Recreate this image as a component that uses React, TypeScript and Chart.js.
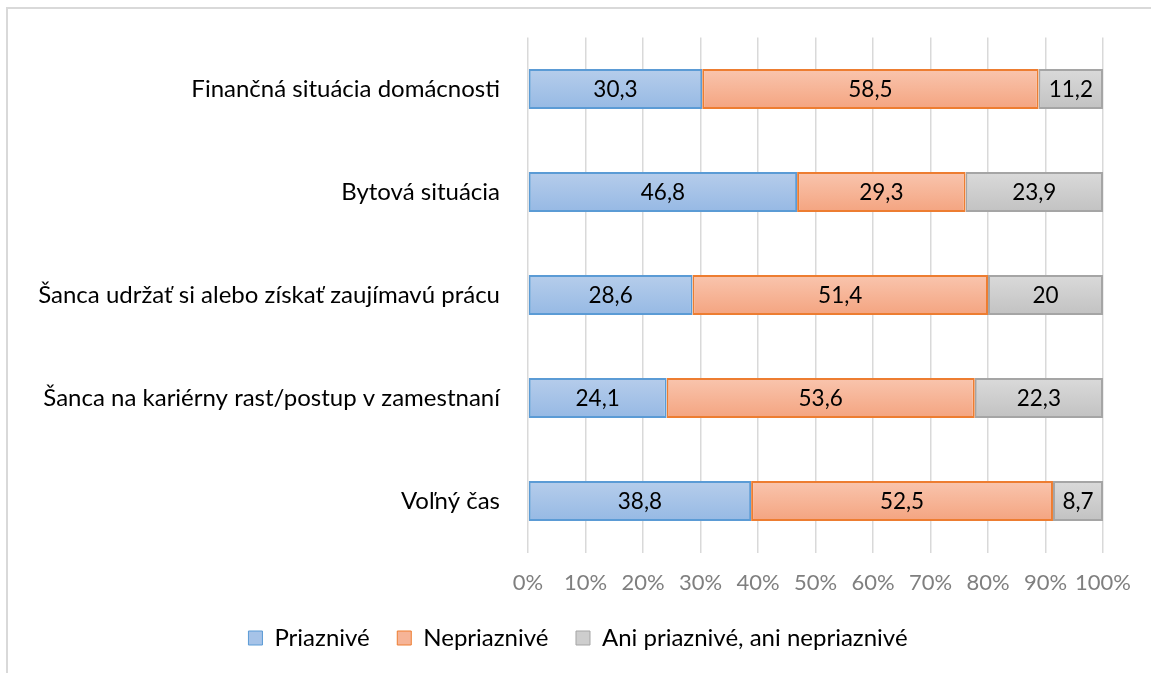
import React, { useEffect, useRef } from "react";
import { Chart, registerables } from "chart.js";

Chart.register(...registerables);

const categories = [
  "Finančná situácia domácnosti",
  "Bytová situácia",
  "Šanca udržať si alebo získať zaujímavú prácu",
  "Šanca na kariérny rast/postup v zamestnaní",
  "Voľný čas",
];
const seriesNames = ["Priaznivé", "Nepriaznivé", "Ani priaznivé, ani nepriaznivé"];
const priaznive = [30.3, 46.8, 28.6, 24.1, 38.8];
const nepriaznive = [58.5, 29.3, 51.4, 53.6, 52.5];
const ani = [11.2, 23.9, 20, 22.3, 8.7];
const xTicks = [0, 10, 20, 30, 40, 50, 60, 70, 80, 90, 100];

const FONT = "Lato, sans-serif";

const palettes = [
  { top: "#b6cdeb", bottom: "#96b9e4", border: "#5b9bd5", legend: "#a6c3e8" },
  { top: "#f9c5ae", bottom: "#f4a480", border: "#ed7d31", legend: "#f6b497" },
  { top: "#dadada", bottom: "#c2c2c2", border: "#a5a5a5", legend: "#cecece" },
];

function gradientFor(idx: number) {
  return (ctx: any) => {
    const chart = ctx.chart;
    const p = palettes[idx];
    const y = chart.scales?.y;
    if (!y || ctx.dataIndex === undefined || ctx.type !== "data") return p.legend;
    const c = y.getPixelForValue(ctx.dataIndex);
    const g = chart.ctx.createLinearGradient(0, c - 20, 0, c + 20);
    g.addColorStop(0, p.top);
    g.addColorStop(1, p.bottom);
    return g;
  };
}

const labelPlugin = {
  id: "segLabels",
  afterDatasetsDraw(chart: any) {
    const ctx = chart.ctx;
    ctx.save();
    ctx.font = `22.5px ${FONT}`;
    ctx.fillStyle = "#000";
    ctx.textAlign = "center";
    ctx.textBaseline = "middle";
    chart.data.datasets.forEach((ds: any, di: number) => {
      const meta = chart.getDatasetMeta(di);
      meta.data.forEach((el: any, i: number) => {
        const v = ds.data[i];
        const cx = (el.x + el.base) / 2;
        ctx.fillText(String(v).replace(".", ","), cx, el.y + 1);
      });
    });
    ctx.restore();
  },
};

export default function App() {
  const ref = useRef<HTMLCanvasElement>(null);
  useEffect(() => {
    if (!ref.current) return;
    const values = [priaznive, nepriaznive, ani];
    const chart = new Chart(ref.current, {
      type: "bar",
      data: {
        labels: categories,
        datasets: values.map((d, i) => ({
          label: seriesNames[i],
          data: d,
          backgroundColor: gradientFor(i),
          borderColor: palettes[i].border,
          borderWidth: 2,
          borderSkipped: false,
          barPercentage: 0.39,
          categoryPercentage: 1,
        })),
      },
      options: {
        indexAxis: "y",
        responsive: false,
        animation: false,
        devicePixelRatio: 1,
        layout: { padding: { left: 5, right: 0, top: 37.5, bottom: 13 } },
        plugins: {
          tooltip: { enabled: false },
          legend: {
            position: "bottom",
            labels: {
              font: { family: FONT, size: 24, lineHeight: 1 },
              color: "#000",
              boxWidth: 14,
              boxHeight: 14,
              padding: 27.5,
              generateLabels: () =>
                seriesNames.map((n, i) => ({
                  text: n,
                  fillStyle: palettes[i].legend,
                  strokeStyle: palettes[i].border,
                  lineWidth: 1,
                  hidden: false,
                  datasetIndex: i,
                })),
            },
          },
        },
        scales: {
          x: {
            stacked: true,
            min: 0,
            max: 100,
            afterBuildTicks: (s: any) => {
              s.ticks = xTicks.map((v) => ({ value: v }));
            },
            afterFit: (s: any) => {
              s.height = 46;
            },
            ticks: {
              callback: (v: any) => v + "%",
              color: "#7f7f7f",
              font: { family: FONT, size: 22 },
              padding: 17,
              maxRotation: 0,
              autoSkip: false,
            },
            grid: { color: "#d9d9d9", lineWidth: 1.5, drawTicks: false },
            border: { display: false },
          },
          y: {
            stacked: true,
            afterFit: (s: any) => {
              s.width = 523;
              s.paddingTop = 0;
              s.paddingBottom = 0;
            },
            ticks: {
              color: "#000",
              font: { family: FONT, size: 24 },
              padding: 28,
            },
            grid: { display: false, drawTicks: false },
            border: { display: false },
          },
          y2: {
            type: "category",
            position: "right",
            labels: categories,
            afterFit: (s: any) => {
              s.width = 48;
              s.paddingTop = 0;
              s.paddingBottom = 0;
            },
            ticks: { display: false },
            grid: { display: false, drawTicks: false },
            border: { display: false },
          },
        },
      } as any,
      plugins: [labelPlugin],
    });
    return () => chart.destroy();
  }, []);

  return (
    <div
      style={{
        position: "absolute",
        left: 0,
        top: 0,
        width: 1151,
        height: 673,
        overflow: "hidden",
        background: "#fff",
      }}
    >
      <div
        style={{
          position: "absolute",
          left: 6,
          top: 7,
          width: 1200,
          height: 720,
          border: "2px solid #d9d9d9",
          boxSizing: "border-box",
        }}
      />
      <canvas
        ref={ref}
        width={1151}
        height={673}
        style={{ position: "absolute", left: 0, top: 0, width: 1151, height: 673 }}
      />
    </div>
  );
}
